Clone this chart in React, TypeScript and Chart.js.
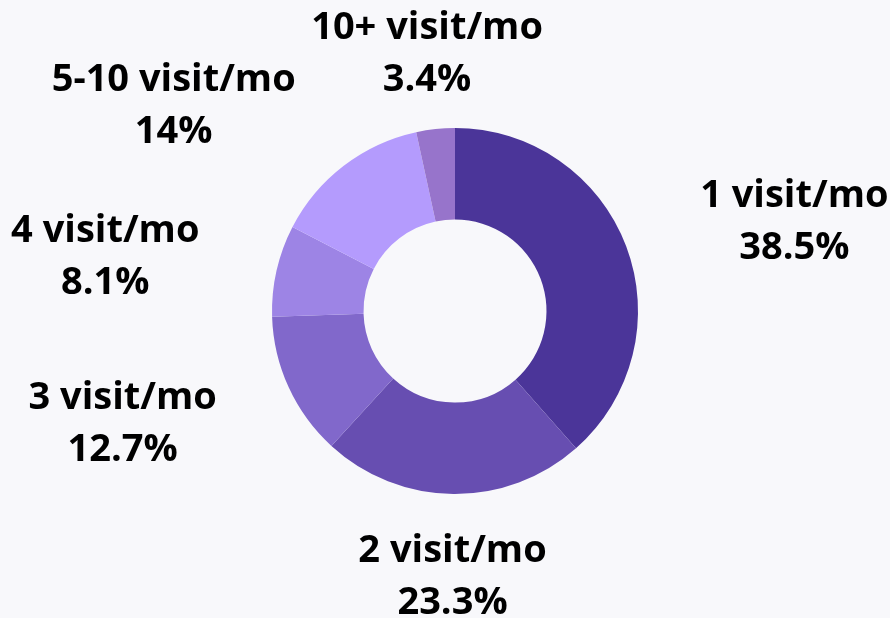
import React, { useEffect, useRef } from "react";
import { Chart, registerables } from "chart.js";

Chart.register(...registerables);

const categories = ["1 visit/mo", "2 visit/mo", "3 visit/mo", "4 visit/mo", "5-10 visit/mo", "10+ visit/mo"];
const shares = [38.5, 23.3, 12.7, 8.1, 14, 3.4];
const shareLabels = ["38.5%", "23.3%", "12.7%", "8.1%", "14%", "3.4%"];
const colors = ["#4b3599", "#674eb1", "#8168cb", "#9d84e5", "#b49bfd", "#9774cb"];

const FONT = 'bold 38px "Open Sans", "Noto Sans", sans-serif';

const outsideLabels = {
  id: "outsideLabels",
  afterDatasetsDraw(chart: any) {
    const ctx = chart.ctx;
    const meta = chart.getDatasetMeta(0);
    ctx.save();
    ctx.font = FONT;
    ctx.fillStyle = "#000";
    ctx.textBaseline = "alphabetic";
    ctx.textAlign = "center";
    meta.data.forEach((arc: any, i: number) => {
      const p = arc.getProps(["x", "y", "startAngle", "endAngle", "outerRadius"], true);
      const a = (p.startAngle + p.endAngle) / 2;
      const vx = Math.cos(a);
      const vy = Math.sin(a);
      const R = p.outerRadius * 1.432;
      const px = p.x + vx * R;
      const py = p.y + vy * R;
      const l1 = categories[i];
      const l2 = shareLabels[i];
      const w = Math.max(ctx.measureText(l1).width, ctx.measureText(l2).width);
      let cx = px;
      if (Math.abs(vx) >= 0.3) cx = vx > 0 ? px + w / 2 : px - w / 2;
      ctx.fillText(l1, cx, py - 11.5);
      ctx.fillText(l2, cx, py + 40.5);
    });
    ctx.restore();
  },
};

export default function App() {
  const ref = useRef<HTMLCanvasElement | null>(null);
  useEffect(() => {
    document.body.style.margin = "0";
    document.body.style.background = "#f8f8fb";
    if (!ref.current) return;
    const chart = new Chart(ref.current, {
      type: "doughnut",
      data: {
        labels: categories,
        datasets: [
          {
            data: shares,
            backgroundColor: colors,
            borderWidth: 0,
          },
        ],
      },
      options: {
        responsive: false,
        animation: false,
        cutout: "50%",
        layout: { padding: { top: 128, bottom: 124, left: 272, right: 252 } },
        plugins: { legend: { display: false }, tooltip: { enabled: false } },
      },
      plugins: [outsideLabels],
    });
    (document as any).fonts?.load?.(FONT).then(() => chart.update()).catch(() => {});
    return () => chart.destroy();
  }, []);
  return (
    <div style={{ position: "fixed", left: 0, top: 0, width: 890, height: 618, background: "#f8f8fb" }}>
      <canvas ref={ref} width={890} height={618} style={{ width: 890, height: 618, display: "block" }} />
    </div>
  );
}
